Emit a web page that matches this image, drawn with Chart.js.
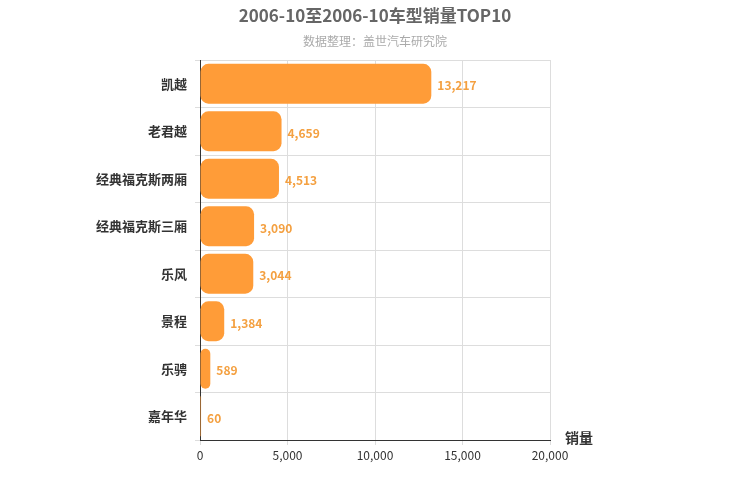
<!DOCTYPE html>
<html><head><meta charset="utf-8">
<script src="https://cdn.jsdelivr.net/npm/chart.js@4"></script>
<style>body{margin:0;background:#fff}#w{width:750px;height:500px}</style>
</head><body><div id="w"><canvas id="c"></canvas></div>
<script>
const categories=["凯越","老君越","经典福克斯两厢","经典福克斯三厢","乐风","景程","乐骋","嘉年华"];
const sales=[13217,4659,4513,3090,3044,1384,589,60];
const xTicks=[0,5000,10000,15000,20000];
const FONT='"Noto Sans CJK SC", "Noto Sans", sans-serif';
const deco={id:'deco',afterDatasetsDraw(ch){
 const ctx=ch.ctx,x=ch.scales.x,y=ch.scales.y;
 ctx.save();
 ctx.textAlign='center';ctx.textBaseline='middle';
 ctx.fillStyle='#666';ctx.font='bold 17px '+FONT;
 ctx.fillText('2006-10至2006-10车型销量TOP10',375,16);
 ctx.fillStyle='#aaa';ctx.font='12px '+FONT;
 ctx.fillText('数据整理：盖世汽车研究院',375,41);
 ctx.textAlign='left';ctx.fillStyle='#333';ctx.font='bold 14px '+FONT;
 ctx.fillText('销量',565,438);
 ctx.fillStyle='#f4a040';ctx.font='bold 12px '+FONT;
 sales.forEach((v,i)=>ctx.fillText(v.toLocaleString('en-US'),x.getPixelForValue(v)+6,y.getPixelForValue(i)+2));
 ctx.restore();}};
new Chart(document.getElementById('c'),{type:'bar',
 data:{labels:categories,datasets:[{data:sales,backgroundColor:'#ff9c38',borderRadius:8,borderSkipped:false,barPercentage:0.84,categoryPercentage:1}]},
 options:{indexAxis:'y',responsive:true,maintainAspectRatio:false,animation:false,
  layout:{padding:{top:60,right:200,left:0,bottom:0}},
  plugins:{legend:{display:false},tooltip:{enabled:false}},
  scales:{
   x:{min:0,max:20000,afterBuildTicks(s){s.ticks=xTicks.map(v=>({value:v}));},
    afterFit(s){s.height=60;},
    ticks:{color:'#333',font:{size:12,family:FONT},callback:v=>v.toLocaleString('en-US')},
    grid:{color:'#ddd',drawTicks:true,tickLength:5},border:{color:'#333'}},
   y:{afterFit(s){s.width=200;},
    ticks:{color:'#333',font:{size:13,weight:'bold',family:FONT},padding:8},
    grid:{offset:true,color:'#ddd',tickLength:5},border:{color:'#333'}}
  }},plugins:[deco]});
</script></body></html>
